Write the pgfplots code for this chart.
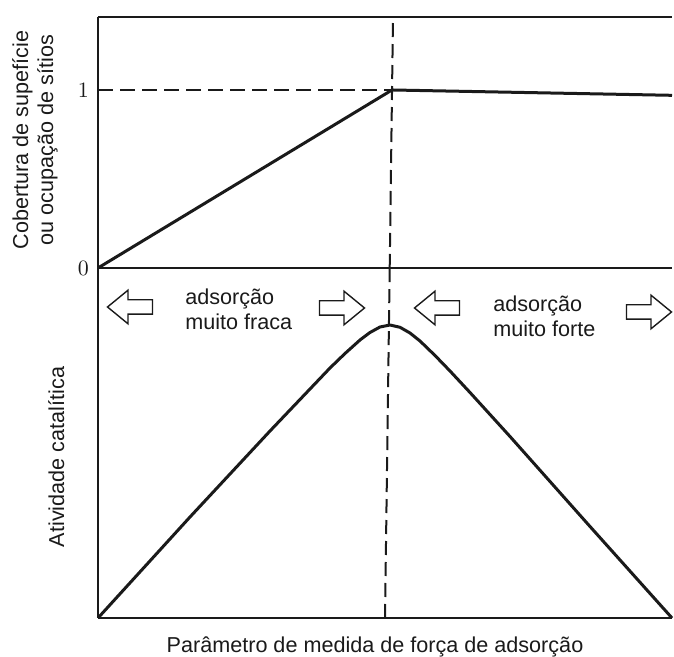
\documentclass[border=0pt]{standalone}
\usepackage{fontspec}
\setmainfont{Liberation Sans}
\usepackage{pgfplots}
\pgfplotsset{compat=1.18}

\definecolor{ink}{HTML}{1A1A1A}
\newcommand{\fs}{\fontsize{10.8}{12.5}\selectfont}

% hollow block arrow: #1 centre, #2 = 1 points right, -1 points left
\newcommand{\blockarrow}[2]{%
  \draw[ink,line width=.7pt,fill=white,line join=miter,shift={#1},xscale=#2]
    (-11.25pt,-3.6pt) -- (1pt,-3.6pt) -- (1pt,-8.4pt) -- (11.25pt,0pt)
    -- (1pt,8.4pt) -- (1pt,3.6pt) -- (-11.25pt,3.6pt) -- cycle;}

\begin{document}
\begin{tikzpicture}
% upper panel: surface coverage
\begin{axis}[
  name=top, at={(49pt,194.5pt)}, anchor=south west,
  scale only axis, width=287pt, height=125.5pt,
  xmin=98, xmax=672, ymin=0, ymax=1.41,
  axis lines*=left, axis line style={line width=.8pt,draw=ink},
  xtick=\empty, ytick={0,1}, major tick length=0pt,
  yticklabel style={font=\fontsize{11}{12}\selectfont,text=ink,xshift=-1pt},
  clip=false,
]
\addplot[ink,line width=1.5pt,line join=round] coordinates {(98,0) (392,1) (672,0.97)};
\addplot[ink,line width=1pt,dash pattern=on 7.5pt off 3.5pt] coordinates {(98,1) (392,1)};
\addplot[ink,line width=1pt,dash pattern=on 7pt off 3.5pt] coordinates {(389.7,0) (393,1.41)};
\draw[ink,line width=.8pt] (rel axis cs:0,1) -- (rel axis cs:1,1);
\end{axis}

% lower panel: catalytic activity (volcano)
\begin{axis}[
  name=bot, at={(49pt,19.5pt)}, anchor=south west,
  scale only axis, width=287pt, height=175pt,
  xmin=98, xmax=672, ymin=0, ymax=350,
  axis lines*=left, axis line style={line width=.8pt,draw=ink},
  xtick=\empty, ytick=\empty,
  clip=false,
]
\addplot[ink,line width=1.5pt,line join=round] coordinates {
  (98,0) (190,101) (270,187) (310,229) (330,250) (345,264.5) (360,278)
  (370,285.5) (380,291) (390,293) (400,290.7) (410,285) (420,277)
  (435,262.5) (450,247) (470,225.5) (510,181.5) (590,91.5) (672,0)};
\addplot[ink,line width=1pt,dash pattern=on 7pt off 3.5pt] coordinates {(385,0) (389.7,350)};
\end{axis}

\blockarrow{(65pt,175pt)}{-1}
\blockarrow{(171pt,174.5pt)}{1}
\blockarrow{(218.5pt,174.5pt)}{-1}
\blockarrow{(324.5pt,172.5pt)}{1}

\node[anchor=base west,inner sep=0,font=\fs,text=ink] at (92.5pt,176pt) {adsorção};
\node[anchor=base west,inner sep=0,font=\fs,text=ink] at (92.5pt,163.5pt) {muito fraca};
\node[anchor=base west,inner sep=0,font=\fs,text=ink] at (246.5pt,172.5pt) {adsorção};
\node[anchor=base west,inner sep=0,font=\fs,text=ink] at (246.5pt,160pt) {muito forte};

\node[rotate=90,anchor=base,inner sep=0,font=\fs,text=ink] at (14pt,258.5pt) {Cobertura de supefície};
\node[rotate=90,anchor=base,inner sep=0,font=\fs,text=ink] at (26.5pt,258.5pt) {ou ocupação de sítios};
\node[rotate=90,anchor=base,inner sep=0,font=\fs,text=ink] at (32pt,100pt) {Atividade catalítica};
\node[anchor=base,inner sep=0,font=\fs,text=ink] at (187.5pt,2pt) {Parâmetro de medida de força de adsorção};

\pgfresetboundingbox
\path (0,0) rectangle (337pt,328.5pt);
\end{tikzpicture}
\end{document}
